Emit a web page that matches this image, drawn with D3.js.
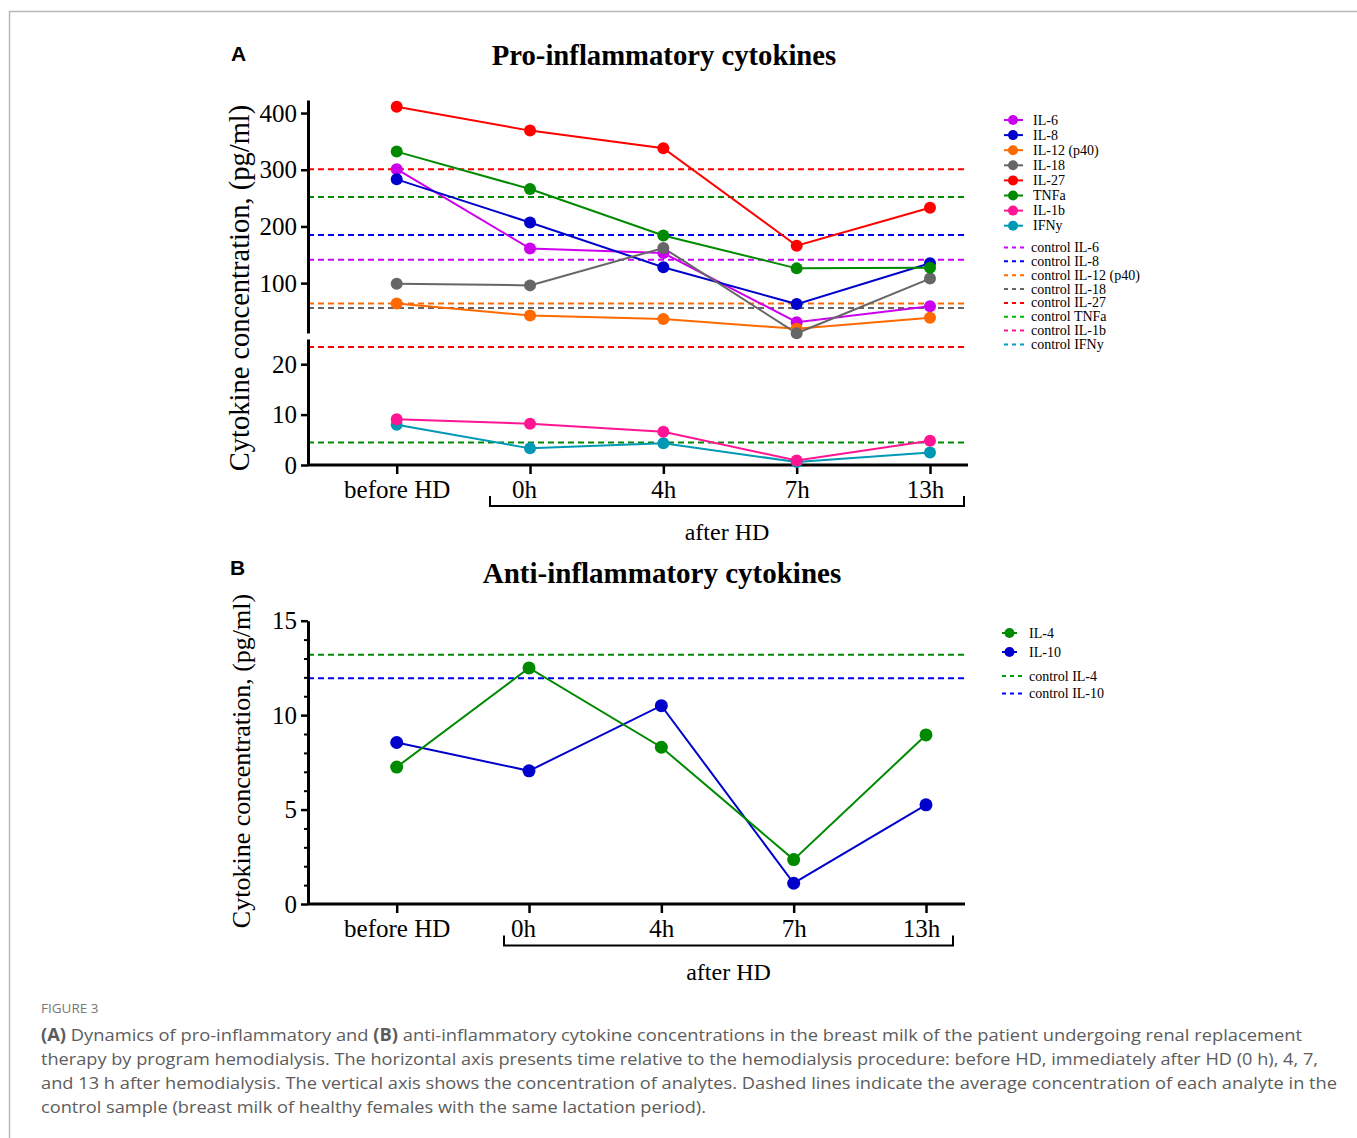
<!DOCTYPE html>
<html>
<head>
<meta charset="utf-8">
<script src="https://cdn.jsdelivr.net/npm/d3@7"></script>
<style>
  body { margin: 0; background: #fff; }
  svg text { font-family: "Liberation Serif", "Times New Roman", serif; fill: #000; }
  svg text.sans { font-family: "Liberation Sans", Arial, sans-serif; }
  svg text.cap { font-family: "Open Sans", sans-serif; fill: #5c5c5c; }
</style>
</head>
<body>
<svg id="fig" width="1357" height="1138"></svg>
<script>
// time points
const categories = ['before HD', '0h', '4h', '7h', '13h'];

// panel A - pro-inflammatory (pg/ml)
const il6  = [301, 161, 153, 31, 59];
const il8  = [283, 207, 128, 63, 135];
const il12 = [64, 43, 36.5, 19.5, 39];
const il18 = [99, 96, 162, 11.5, 108];
const il27 = [411, 369, 338, 166, 233];
const tnfa = [332, 266, 184, 126, 127];
const il1b = [9.1, 8.2, 6.6, 0.9, 4.8];
const ifny = [8.0, 3.3, 4.3, 0.6, 2.5];

// control means, panel A
const controlNamesA  = ['control IL-6', 'control IL-8', 'control IL-12 (p40)', 'control IL-18',
                        'control IL-27', 'control TNFa', 'control IL-1b', 'control IFNy'];
const controlHighA   = [141, 185, 64, 56, 301, 252];   // upper segment
const controlLowA    = [23.4, 4.45];                    // lower segment

// panel B - anti-inflammatory (pg/ml)
const il4  = [7.25, 12.5, 8.3, 2.35, 8.95];
const il10 = [8.55, 7.05, 10.5, 1.1, 5.25];
const controlB = [13.2, 11.95];

const yTicksTop = [100, 200, 300, 400];
const yTicksBot = [0, 10, 20];
const yTicksB   = [0, 5, 10, 15];

const C = {
    il6: '#cc00ee', il8: '#0000cc', il12: '#ff6a00', il18: '#666666',
    il27: '#ff0000', tnfa: '#008a00', il1b: '#ff1493', ifny: '#0099b5'
};

const seriesHigh = [
    { name: 'IL-6', v: il6, c: C.il6 },
    { name: 'IL-8', v: il8, c: C.il8 },
    { name: 'IL-12 (p40)', v: il12, c: C.il12 },
    { name: 'IL-18', v: il18, c: C.il18 },
    { name: 'TNFa', v: tnfa, c: C.tnfa },
    { name: 'IL-27', v: il27, c: C.il27 }
];
const seriesLow = [
    { name: 'IFNy', v: ifny, c: C.ifny },
    { name: 'IL-1b', v: il1b, c: C.il1b }
];
const legendA = [
    ['IL-6', C.il6], ['IL-8', C.il8], ['IL-12 (p40)', C.il12], ['IL-18', C.il18],
    ['IL-27', C.il27], ['TNFa', C.tnfa], ['IL-1b', C.il1b], ['IFNy', C.ifny]
];
const ctrlColorsA = ['#cc00ff', '#0000ff', '#ff6a00', '#666666', '#ff0000', '#00b400', '#ff1493', '#00a0c8'];
const ctrlHighColors = ['#cc00ff', '#0000ff', '#ff6a00', '#666666', '#ff0000', '#008a00'];
const ctrlLowColors = ['#ff0000', '#008a00'];

const svg = d3.select('#fig');

// frame
svg.append('path').attr('d', 'M9.5,1138 L9.5,11.5 L1357,11.5')
    .attr('fill', 'none').attr('stroke', '#b8b8b8').attr('stroke-width', 1.5);

const DASH = '6,4';

function styleAxis(g) {
    g.select('.domain').attr('stroke', '#000').attr('stroke-width', 3);
    g.selectAll('.tick line').attr('stroke', '#000').attr('stroke-width', 2.5);
    g.selectAll('.tick text').attr('font-size', 25)
        .style('font-family', '"Liberation Serif", serif');
}

function drawSeries(g, x, y, list, r, w) {
    const line = d3.line().x((d, i) => x(categories[i])).y(d => y(d));
    list.forEach(s => {
        g.append('path').datum(s.v)
            .attr('fill', 'none').attr('stroke', s.c).attr('stroke-width', w)
            .attr('d', line);
    });
    list.forEach(s => {
        g.selectAll(null).data(s.v).enter().append('circle')
            .attr('cx', (d, i) => x(categories[i]))
            .attr('cy', d => y(d))
            .attr('r', r).attr('fill', s.c);
    });
}

function dashed(g, y, vals, cols, x0, x1) {
    g.selectAll(null).data(vals).enter().append('line')
        .attr('x1', x0).attr('x2', x1)
        .attr('y1', d => y(d)).attr('y2', d => y(d))
        .attr('stroke', (d, i) => cols[i]).attr('stroke-width', 2)
        .attr('stroke-dasharray', DASH);
}

function xAxisWithBracket(g, x, yBase, left, right, bx0, bx1, by) {
    g.append('line').attr('x1', left).attr('x2', right).attr('y1', yBase).attr('y2', yBase)
        .attr('stroke', '#000').attr('stroke-width', 3);
    const ax = g.append('g').attr('transform', `translate(0,${yBase})`)
        .call(d3.axisBottom(x).tickSize(9).tickPadding(6));
    ax.select('.domain').remove();
    styleAxis(ax);
    ax.selectAll('.tick text').attr('dy', '0.71em')
        .attr('x', d => d === '0h' ? -6 : (d === '13h' ? -5 : 0));
    g.append('path')
        .attr('d', `M${bx0},${by - 10} L${bx0},${by} L${bx1},${by} L${bx1},${by - 10}`)
        .attr('fill', 'none').attr('stroke', '#000').attr('stroke-width', 2);
    g.append('text').attr('x', (bx0 + bx1) / 2).attr('y', by + 34)
        .attr('text-anchor', 'middle').attr('font-size', 24).text('after HD');
}

// ---------------- Panel A ----------------
const gA = svg.append('g');
const xA = d3.scalePoint().domain(categories).range([396.7, 930]);
const yTop = d3.scaleLinear().domain([12, 423]).range([333, 100]);
const yBot = d3.scaleLinear().domain([0, 25]).range([465, 339]);
const leftA = 308, rightA = 968;

gA.append('text').attr('class', 'sans').attr('x', 231).attr('y', 61)
    .attr('font-size', 21).attr('font-weight', 'bold').text('A');
gA.append('text').attr('x', 664).attr('y', 65).attr('text-anchor', 'middle')
    .attr('font-size', 28.7).attr('font-weight', 'bold').text('Pro-inflammatory cytokines');
gA.append('text').attr('transform', 'translate(249,288) rotate(-90)')
    .attr('text-anchor', 'middle').attr('font-size', 28.5).text('Cytokine concentration, (pg/ml)');

dashed(gA, yTop, controlHighA, ctrlHighColors, leftA, rightA);
dashed(gA, yBot, controlLowA, ctrlLowColors, leftA, rightA);

const axTop = gA.append('g').attr('transform', `translate(${leftA},0)`)
    .call(d3.axisLeft(yTop).tickValues(yTicksTop).tickSize(7).tickSizeOuter(0).tickPadding(4));
styleAxis(axTop);
const axBot = gA.append('g').attr('transform', `translate(${leftA},0)`)
    .call(d3.axisLeft(yBot).tickValues(yTicksBot).tickSize(7).tickSizeOuter(0).tickPadding(4));
styleAxis(axBot);

xAxisWithBracket(gA, xA, 465, leftA, rightA, 490, 964, 506);

drawSeries(gA, xA, yTop, seriesHigh, 6, 2);
drawSeries(gA, xA, yBot, seriesLow, 6, 2);

// legend A
const legA = gA.append('g');
legendA.forEach((d, i) => {
    const y = 120 + i * 15.1;
    legA.append('line').attr('x1', 1004).attr('x2', 1023).attr('y1', y).attr('y2', y)
        .attr('stroke', d[1]).attr('stroke-width', 2);
    legA.append('circle').attr('cx', 1013).attr('cy', y).attr('r', 5).attr('fill', d[1]);
    legA.append('text').attr('x', 1033).attr('y', y + 4.5).attr('font-size', 14).text(d[0]);
});
controlNamesA.forEach((n, i) => {
    const y = 247.5 + i * 13.85;
    legA.append('line').attr('x1', 1004).attr('x2', 1028).attr('y1', y).attr('y2', y)
        .attr('stroke', ctrlColorsA[i]).attr('stroke-width', 2).attr('stroke-dasharray', '4,4');
    legA.append('text').attr('x', 1031).attr('y', y + 4.5).attr('font-size', 14).text(n);
});

// ---------------- Panel B ----------------
const gB = svg.append('g');
const xB = d3.scalePoint().domain(categories).range([396.7, 926]);
const yB = d3.scaleLinear().domain([0, 15]).range([904, 620.7]);
const leftB = 308, rightB = 965;

gB.append('text').attr('class', 'sans').attr('x', 230).attr('y', 575)
    .attr('font-size', 21).attr('font-weight', 'bold').text('B');
gB.append('text').attr('x', 662).attr('y', 583).attr('text-anchor', 'middle')
    .attr('font-size', 29).attr('font-weight', 'bold').text('Anti-inflammatory cytokines');
gB.append('text').attr('transform', 'translate(250,761) rotate(-90)')
    .attr('text-anchor', 'middle').attr('font-size', 26).text('Cytokine concentration, (pg/ml)');

dashed(gB, yB, controlB, ['#008a00', '#0000ee'], leftB, rightB);

const axB = gB.append('g').attr('transform', `translate(${leftB},0)`)
    .call(d3.axisLeft(yB).tickValues(yTicksB).tickSize(7).tickSizeOuter(0).tickPadding(4));
styleAxis(axB);
const minorB = gB.append('g').attr('transform', `translate(${leftB},0)`)
    .call(d3.axisLeft(yB).tickValues(d3.range(0, 16).filter(v => v % 5 !== 0))
        .tickSize(4).tickSizeOuter(0).tickFormat(''));
minorB.select('.domain').remove();
minorB.selectAll('.tick line').attr('stroke', '#000').attr('stroke-width', 2);

xAxisWithBracket(gB, xB, 904, leftB, rightB, 504, 953, 945.5);

drawSeries(gB, xB, yB, [
    { name: 'IL-10', v: il10, c: '#0000cc' },
    { name: 'IL-4', v: il4, c: '#008a00' }
], 6.5, 2);

const legB = gB.append('g');
[['IL-4', '#008a00'], ['IL-10', '#0000cc']].forEach((d, i) => {
    const y = 633 + i * 19;
    legB.append('line').attr('x1', 1002).attr('x2', 1017).attr('y1', y).attr('y2', y)
        .attr('stroke', d[1]).attr('stroke-width', 2);
    legB.append('circle').attr('cx', 1009.5).attr('cy', y).attr('r', 5).attr('fill', d[1]);
    legB.append('text').attr('x', 1029).attr('y', y + 4.5).attr('font-size', 14).text(d[0]);
});
[['control IL-4', '#00a000'], ['control IL-10', '#0000ff']].forEach((d, i) => {
    const y = 676 + i * 17.5;
    legB.append('line').attr('x1', 1002).attr('x2', 1025).attr('y1', y).attr('y2', y)
        .attr('stroke', d[1]).attr('stroke-width', 2).attr('stroke-dasharray', '4,4');
    legB.append('text').attr('x', 1029).attr('y', y + 4.5).attr('font-size', 14).text(d[0]);
});

// ---------------- caption ----------------
const captionLines = [
    [['(A)', true], [' Dynamics of pro-inflammatory and ', false], ['(B)', true],
     [' anti-inflammatory cytokine concentrations in the breast milk of the patient undergoing renal replacement', false]],
    [['therapy by program hemodialysis. The horizontal axis presents time relative to the hemodialysis procedure: before HD, immediately after HD (0 h), 4, 7,', false]],
    [['and 13 h after hemodialysis. The vertical axis shows the concentration of analytes. Dashed lines indicate the average concentration of each analyte in the', false]],
    [['control sample (breast milk of healthy females with the same lactation period).', false]]
];
const capWidths = [1261, 1277, 1296, 665];

svg.append('text').attr('class', 'cap').attr('x', 41).attr('y', 1013)
    .attr('font-size', 13.5).style('fill', '#777').text('FIGURE 3');

captionLines.forEach((parts, i) => {
    const t = svg.append('text').attr('class', 'cap').attr('x', 41).attr('y', 1041 + i * 24)
        .attr('font-size', 17);
    parts.forEach(p => {
        t.append('tspan').attr('font-weight', p[1] ? 'bold' : null).text(p[0]);
    });
    const w = t.node().getComputedTextLength();
    if (w > 0) t.attr('textLength', capWidths[i]).attr('lengthAdjust', 'spacingAndGlyphs');
});
</script>
</body>
</html>
